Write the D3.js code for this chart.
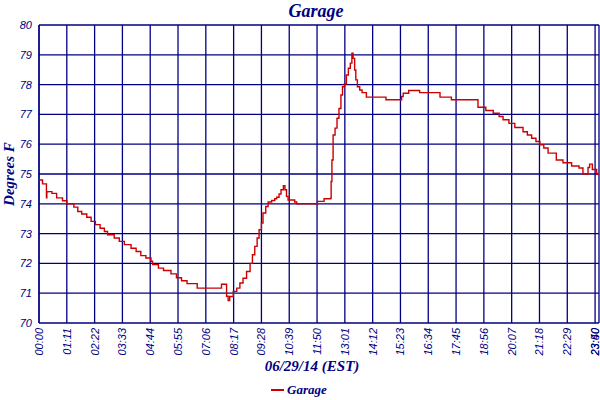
<!DOCTYPE html>
<html><head><meta charset="utf-8">
<script src="https://cdn.jsdelivr.net/npm/d3@7"></script>
<style>body{margin:0;background:#fff}svg{display:block}</style>
</head><body>
<script>
// ---- data ----
const title = "Garage";
const seriesName = "Garage";
const xTitle = "06/29/14 (EST)";
const yTitle = "Degrees F";
const tickLabels = ["00:00","01:11","02:22","03:33","04:44","05:55","07:06","08:17","09:28","10:39","11:50","13:01","14:12","15:23","16:34","17:45","18:56","20:07","21:18","22:29","23:40","23:50"];
const yTicks = [70,71,72,73,74,75,76,77,78,79,80];
// minutes since midnight
const times = [0,9,18,19,20,23,33,45,60,71,89,99,109,122,133,144,156,167,175,192,205,218,235,248,260,273,286,290,305,318,337,351,364,378,404,466,479,483,487,496,505,513,521,530,539,545,551,557,562,568,572,579,585,594,602,607,613,618,624,628,632,636,653,658,711,728,745,746,748,751,756,761,766,771,775,780,785,790,795,799,802,806,809,813,819,825,836,886,926,930,944,972,1024,1053,1121,1141,1160,1175,1185,1200,1215,1236,1247,1258,1269,1279,1289,1300,1321,1338,1360,1379,1389,1402,1406,1413,1424,1430];
const temps = [74.8,74.67,74.67,74.2,74.4,74.41,74.35,74.2,74.1,74.0,73.89,73.74,73.66,73.55,73.41,73.3,73.18,73.07,72.96,72.85,72.74,72.63,72.51,72.4,72.26,72.18,72.07,71.96,71.84,71.76,71.65,71.52,71.42,71.32,71.17,71.3,70.9,70.75,70.89,71.06,71.17,71.34,71.5,71.73,72.0,72.29,72.57,72.85,73.13,73.35,73.69,73.91,74.06,74.11,74.17,74.22,74.33,74.47,74.61,74.47,74.25,74.13,74.06,74.0,74.08,74.17,74.19,74.75,75.47,76.31,76.54,76.87,77.2,77.65,77.93,78.02,78.32,78.55,78.72,79.05,78.88,78.49,78.16,77.93,77.82,77.73,77.58,77.49,77.6,77.71,77.8,77.73,77.58,77.49,77.24,77.13,77.04,76.93,76.82,76.7,76.56,76.42,76.31,76.2,76.09,75.98,75.87,75.7,75.47,75.38,75.27,75.2,75.0,75.22,75.33,75.15,75.0,75.0];

// ---- chart ----
const W = 600, H = 400;
const m = {left:39, right:1, top:25, bottom:77};
const navy = "#000080", red = "#cc0000";
const toMin = s => { const [h, mm] = s.split(":").map(Number); return h*60+mm; };
const svg = d3.select("body").append("svg").attr("width", W).attr("height", H);
const x = d3.scaleLinear().domain([0, toMin(tickLabels[tickLabels.length-1])]).range([m.left, W - m.right]);
const y = d3.scaleLinear().domain([70, 80]).range([H - m.bottom, m.top]);

// grid
const g = svg.append("g");
g.selectAll("line.h").data(yTicks).join("line")
  .attr("x1", m.left).attr("x2", W - m.right)
  .attr("y1", d => y(d)).attr("y2", d => y(d))
  .attr("stroke", navy).attr("stroke-width", 1.3);
g.selectAll("line.v").data(tickLabels).join("line")
  .attr("x1", d => x(toMin(d))).attr("x2", d => x(toMin(d)))
  .attr("y1", m.top).attr("y2", H - m.bottom)
  .attr("stroke", navy).attr("stroke-width", 1.3);
g.append("line").attr("x1", m.left).attr("x2", m.left).attr("y1", m.top).attr("y2", H - m.bottom)
  .attr("stroke", navy).attr("stroke-width", 1.3);

// y tick labels
svg.append("g").selectAll("text").data(yTicks).join("text")
  .attr("x", 32).attr("y", d => y(d) + 4)
  .attr("text-anchor", "end")
  .attr("font-family", "Liberation Sans, Arial, sans-serif")
  .attr("font-style", "italic").attr("font-size", 11).attr("fill", navy)
  .text(d => d);

// x tick labels
svg.append("g").selectAll("text").data(tickLabels).join("text")
  .attr("transform", d => `translate(${Math.min(x(toMin(d)) + 4, W - 1)},${H - m.bottom + 5}) rotate(-90)`)
  .attr("text-anchor", "end")
  .attr("font-family", "Liberation Sans, Arial, sans-serif")
  .attr("font-style", "italic").attr("font-size", 11).attr("fill", navy)
  .text(d => d);

// line
const pts = times.map((t, i) => [t, temps[i]]);
svg.append("path").datum(pts)
  .attr("d", d3.line().x(d => x(d[0])).y(d => y(d[1])).curve(d3.curveStepAfter))
  .attr("fill", "none").attr("stroke", red).attr("stroke-width", 1.4);

// titles
const serif = "Liberation Serif, Times New Roman, serif";
svg.append("text").attr("x", 316).attr("y", 17).attr("text-anchor", "middle")
  .attr("font-family", serif).attr("font-weight", "bold").attr("font-style", "italic")
  .attr("font-size", 18).attr("fill", navy).text(title);
svg.append("text").attr("x", 312).attr("y", 371).attr("text-anchor", "middle")
  .attr("font-family", serif).attr("font-weight", "bold").attr("font-style", "italic")
  .attr("font-size", 15).attr("fill", navy).text(xTitle);
svg.append("text").attr("transform", "translate(14,174) rotate(-90)").attr("text-anchor", "middle")
  .attr("font-family", serif).attr("font-weight", "bold").attr("font-style", "italic")
  .attr("font-size", 15).attr("fill", navy).text(yTitle);

// legend
svg.append("line").attr("x1", 271).attr("x2", 284).attr("y1", 390).attr("y2", 390)
  .attr("stroke", red).attr("stroke-width", 2);
svg.append("text").attr("x", 287).attr("y", 394)
  .attr("font-family", serif).attr("font-weight", "bold").attr("font-style", "italic")
  .attr("font-size", 13).attr("fill", navy).text(seriesName);
</script>
</body></html>
